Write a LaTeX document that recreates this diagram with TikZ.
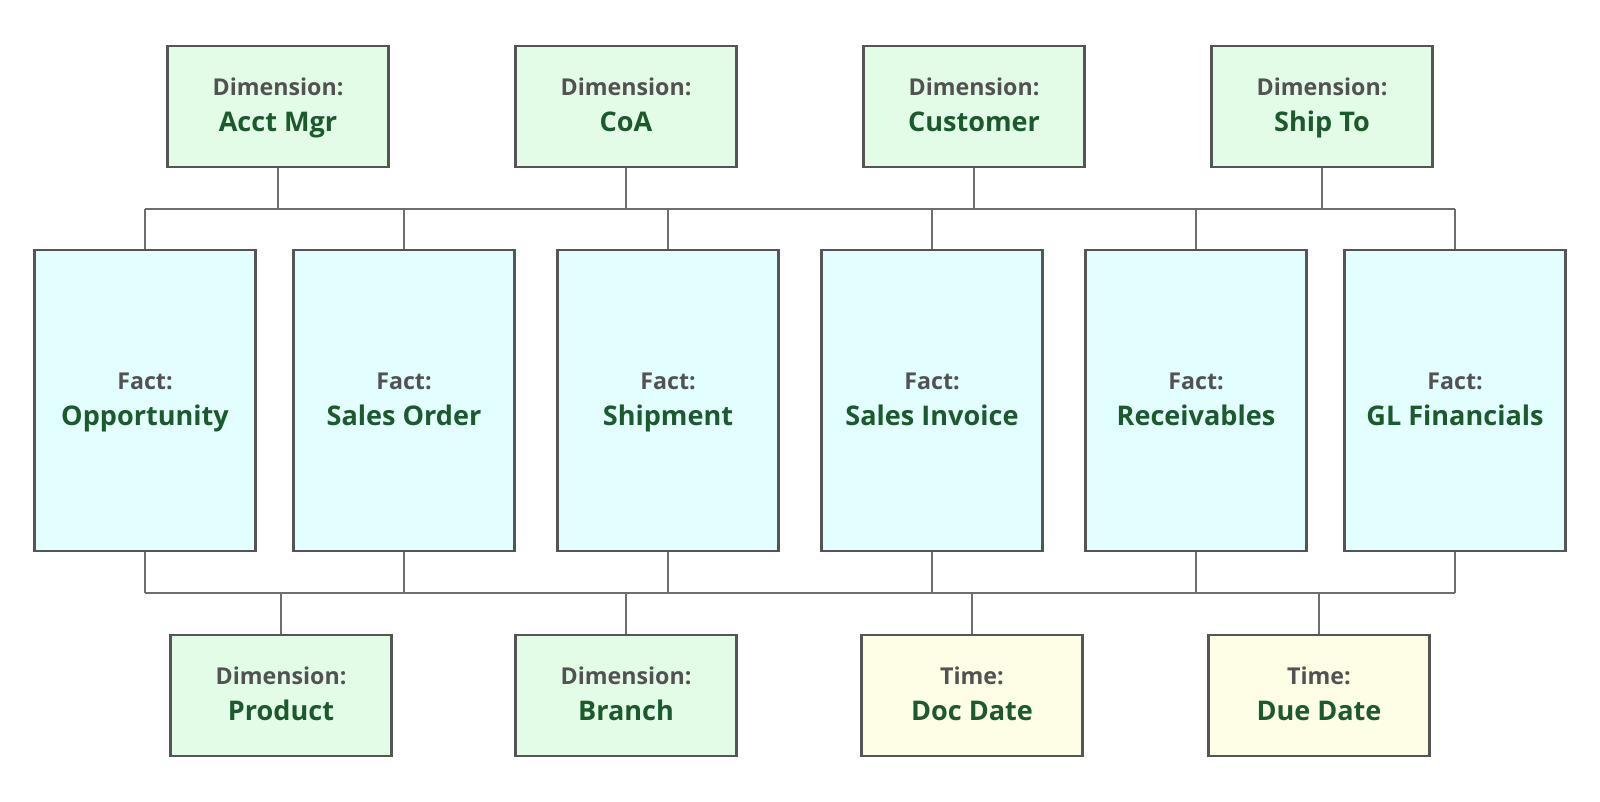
\documentclass[tikz,border=0pt]{standalone}
\usepackage{fontspec}
\setmainfont{Open Sans}
\definecolor{dimfill}{HTML}{E3FCE8}
\definecolor{factfill}{HTML}{E3FEFE}
\definecolor{timefill}{HTML}{FEFDE6}
\definecolor{boxline}{HTML}{555555}
\definecolor{wire}{HTML}{6E6E6E}
\definecolor{labgray}{HTML}{525252}
\definecolor{namegreen}{HTML}{1B5A2C}
\tikzset{
  box/.style={draw=boxline, line width=2.2pt, minimum width=221*0.75pt, inner sep=0pt},
  dimbox/.style={box, fill=dimfill, minimum height=121*0.75pt},
  timebox/.style={box, fill=timefill, minimum height=121*0.75pt},
  factbox/.style={box, fill=factfill, minimum height=301*0.75pt},
  lab/.style={anchor=base, inner sep=0pt, text=labgray, font=\fontsize{17.4}{19}\selectfont\bfseries},
  nm/.style={anchor=base, inner sep=0pt, text=namegreen, font=\fontsize{20.3}{22}\selectfont\bfseries},
  wirel/.style={draw=wire, line width=1.5pt}
}
\newcommand{\twotext}[3]{%
  \node[lab] at ([yshift=11*0.75pt]#1.center) {#2};
  \node[nm] at ([yshift=-25*0.75pt]#1.center) {#3};}
\begin{document}
\begin{tikzpicture}[x=0.75pt,y=-0.75pt]
\useasboundingbox (0,0) rectangle (1600,801);
% top dimensions
\node[dimbox] (am) at (278,106.5) {};
\node[dimbox] (coa) at (626,106.5) {};
\node[dimbox] (cu) at (974,106.5) {};
\node[dimbox] (st) at (1322,106.5) {};
% facts
\node[factbox] (op) at (145,400.5) {};
\node[factbox] (so) at (404,400.5) {};
\node[factbox] (sh) at (668,400.5) {};
\node[factbox] (si) at (932,400.5) {};
\node[factbox] (re) at (1196,400.5) {};
\node[factbox] (gl) at (1455,400.5) {};
% bottom dimensions
\node[dimbox] (pr) at (281,695.5) {};
\node[dimbox] (br) at (626,695.5) {};
\node[timebox] (dd) at (972,695.5) {};
\node[timebox] (du) at (1319,695.5) {};
% buses
\coordinate (tl) at (145,209);
\coordinate (tr) at (1455,209);
\coordinate (bl) at (145,593);
\coordinate (brr) at (1455,593);
\draw[wirel] (tl) -- (tr);
\draw[wirel] (bl) -- (brr);
\foreach \n in {am,coa,cu,st}{\draw[wirel] (\n.south) -- (\n.south |- tl);}
\foreach \n in {op,so,sh,si,re,gl}{\draw[wirel] (\n.north) -- (\n.north |- tl); \draw[wirel] (\n.south) -- (\n.south |- bl);}
\foreach \n in {pr,br,dd,du}{\draw[wirel] (\n.north) -- (\n.north |- bl);}
% texts
\twotext{am}{Dimension:}{Acct Mgr}
\twotext{coa}{Dimension:}{CoA}
\twotext{cu}{Dimension:}{Customer}
\twotext{st}{Dimension:}{Ship To}
\twotext{op}{Fact:}{Opportunity}
\twotext{so}{Fact:}{Sales Order}
\twotext{sh}{Fact:}{Shipment}
\twotext{si}{Fact:}{Sales Invoice}
\twotext{re}{Fact:}{Receivables}
\twotext{gl}{Fact:}{GL Financials}
\twotext{pr}{Dimension:}{Product}
\twotext{br}{Dimension:}{Branch}
\twotext{dd}{Time:}{Doc Date}
\twotext{du}{Time:}{Due Date}
\end{tikzpicture}
\end{document}
